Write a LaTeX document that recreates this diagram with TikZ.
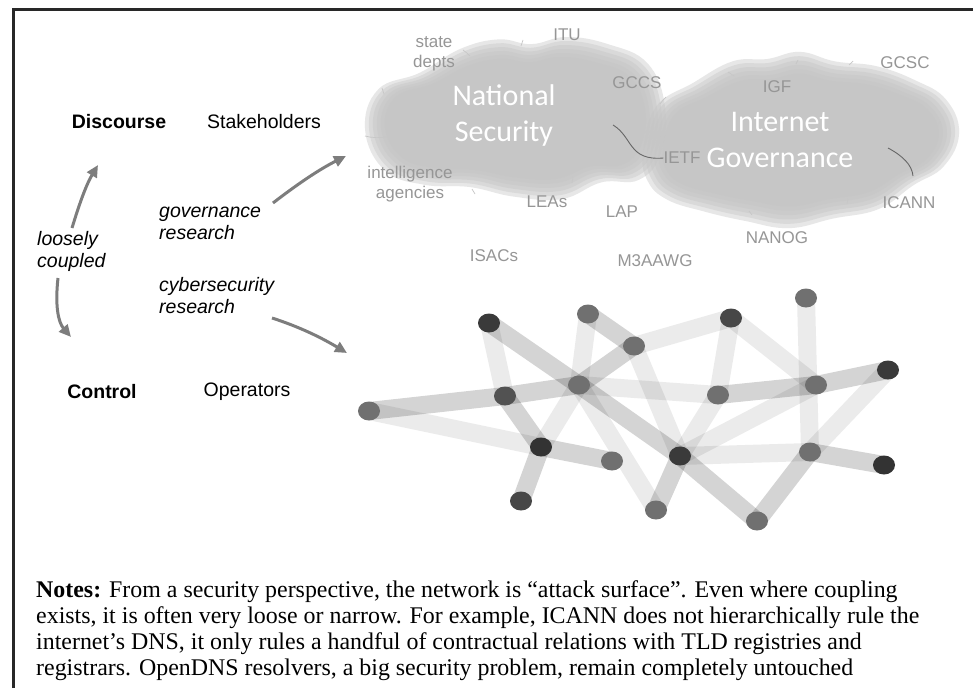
\documentclass[tikz,border=0pt]{standalone}
\usepackage{fontspec}
\setmainfont{Liberation Serif}
\newfontfamily\arialf{Liberation Sans}
\newfontfamily\calf{Carlito}
\usetikzlibrary{arrows.meta,shapes.geometric}
\pgfdeclarelayer{backlayer}
\pgfdeclarelayer{cloudlayer}
\pgfdeclarelayer{bandlayer}
\pgfsetlayers{backlayer,cloudlayer,bandlayer,main}
\definecolor{cloudgray}{RGB}{196,196,196}
\definecolor{lblgray}{RGB}{150,150,150}
\definecolor{arrowgray}{RGB}{125,125,125}
\definecolor{darkdot}{RGB}{58,58,58}
\definecolor{middot}{RGB}{112,112,112}
\definecolor{framegray}{RGB}{40,40,40}
\tikzset{
  lbl/.style={font=\arialf\fontsize{17}{20}\selectfont, text=lblgray, inner sep=0pt, align=center},
  lefttxt/.style={font=\arialf\fontsize{19.5}{22}\selectfont, inner sep=0pt, align=left},
  cloudtxt/.style={font=\calf\fontsize{30}{36}\selectfont, text=white, inner sep=0pt, align=center},
  garrow/.style={draw=arrowgray, line width=3pt, -{Triangle[length=12pt,width=11pt]}},
  dotd/.style={ellipse, minimum width=22pt, minimum height=19pt, inner sep=0pt, fill=darkdot},
  dotm/.style={ellipse, minimum width=22pt, minimum height=19pt, inner sep=0pt, fill=middot},
  mband/.style={draw=black, draw opacity=0.17, line width=18pt},
  lband/.style={draw=black, draw opacity=0.08, line width=18pt},
  faint/.style={draw=black!22, line width=0.7pt},
  darkarc/.style={draw=black!60, line width=0.9pt},
  nspath/.style={insert path={plot[smooth cycle, tension=0.7] coordinates {
    (378,128) (390,94) (428,80) (465,60) (500,52) (530,56) (562,50) (600,56) (636,72)
    (652,108) (648,148) (628,170) (594,172) (558,186) (514,184) (474,176) (432,174) (396,162)}}},
  igpath/.style={insert path={plot[smooth cycle, tension=0.7] coordinates {
    (656,150) (668,112) (702,92) (738,74) (770,72) (800,66) (832,74) (870,78) (906,90)
    (934,106) (946,134) (932,162) (904,178) (872,198) (830,206) (790,214) (750,208)
    (712,200) (678,190) (660,174)}}},
}
\newcommand\softcloud[4]{% #1 path style, #2 cx, #3 cy, #4 half-width ratio
  \foreach \d in {13,9,5,1,-3,-7}{
    \fill[cloudgray, fill opacity=0.4, shift={(#2,#3)}, xscale={1+\d/#4}, yscale={1+\d/68}, shift={(-#2,-#3)}, #1];
  }}
\begin{document}
\begin{tikzpicture}[x=1pt,y=-1pt]
\useasboundingbox (0,0) rectangle (974,688);
\begin{pgfonlayer}{backlayer}
\fill[white] (0,0) rectangle (974,688);
\end{pgfonlayer}
% frame
\draw[framegray, line width=3pt] (13,688) -- (13,9) -- (973,9);

% clouds with soft edges
\begin{pgfonlayer}{cloudlayer}
\softcloud{nspath}{515}{118}{138}
\softcloud{igpath}{800}{140}{145}
\end{pgfonlayer}

\node[cloudtxt] (ns) at (504,116) {National\\Security};
\node[cloudtxt] (ig) at (780,140) {Internet\\Governance};

% grey labels
\node[lbl] (state) at (434,54) {state\\depts};
\node[lbl] (itu) at (567,35) {ITU};
\node[lbl] (gccs) at (637,83) {GCCS};
\node[lbl] (igf) at (777,87) {IGF};
\node[lbl] (gcsc) at (905,63) {GCSC};
\node[lbl] (ietf) at (682,158) {IETF};
\node[lbl] (icann) at (909,203) {ICANN};
\node[lbl] (intel) at (410,184) {intelligence\\agencies};
\node[lbl] (leas) at (547,202) {LEAs};
\node[lbl] (lap) at (622,212) {LAP};
\node[lbl] (nanog) at (777,238) {NANOG};
\node[lbl] (isacs) at (494,256) {ISACs};
\node[lbl] (m3) at (655,261) {M3AAWG};

% arcs near clouds
\draw[darkarc] (613,125) .. controls (633,137) and (628,161) .. (ietf.west);
\draw[darkarc] (888,148) .. controls (903,156) and (912,165) .. (913,176);
\draw[faint] (365,136) .. controls (372,138) and (380,138) .. (387,137);
\draw[faint] (463,50) .. controls (466,52) and (468,54) .. (470,56);
\draw[faint] (521,46) -- (523,40);
\draw[faint] (660,104) .. controls (662,101) and (664,99) .. (666,97);
\draw[faint] (728,72) -- (734,76);
\draw[faint] (796,64) -- (798,60);
\draw[faint] (849,65) -- (853,61);
\draw[faint] (936,127) -- (940,122);
\draw[faint] (749,211) -- (752,215);
\draw[faint] (847,204) -- (848,199);
\draw[faint] (572,183) -- (573,177);
\draw[faint] (472,189) -- (475,194);
\draw[faint] (382,88) -- (384,94);

% left texts
\node[lefttxt, font=\arialf\bfseries\fontsize{19.5}{22}\selectfont] (disc) at (119,122) {Discourse};
\node[lefttxt] (stake) at (264,122) {Stakeholders};
\node[lefttxt, font=\arialf\bfseries\fontsize{19.5}{22}\selectfont] (ctrl) at (102,392) {Control};
\node[lefttxt] (oper) at (247,392) {Operators};
\node[lefttxt, font=\arialf\itshape\fontsize{19.5}{22}\selectfont, anchor=west] (loose) at (37,251) {loosely\\coupled};
\node[lefttxt, font=\arialf\itshape\fontsize{19.5}{22}\selectfont, anchor=west] (gov) at (159,223) {governance\\research};
\node[lefttxt, font=\arialf\itshape\fontsize{19.5}{22}\selectfont, anchor=west] (cyb) at (159,296) {cybersecurity\\research};

\coordinate (upS) at (72,228);
\coordinate (upE) at (98,165);
\coordinate (dnS) at (58,278);
\coordinate (dnE) at (71,337);
\coordinate (govS) at (273,203);
\coordinate (govE) at (346,156);
\coordinate (cybS) at (272,318);
\coordinate (cybE) at (347,353);
\draw[garrow] (upS) .. controls (79,205) and (86,185) .. (upE);
\draw[garrow] (dnS) .. controls (55,305) and (58,322) .. (dnE);
\draw[garrow] (govS) .. controls (295,186) and (318,170) .. (govE);
\draw[garrow] (cybS) .. controls (300,327) and (322,338) .. (cybE);

% network nodes
\node[dotm] (n1) at (369,411) {};
\node[dotd] (n2) at (489,323) {};
\node[dotm, fill=black!68] (n3) at (505,396) {};
\node[dotd, fill=black!80] (n4) at (541,447) {};
\node[dotd, fill=black!72] (n5) at (521,501) {};
\node[dotm] (n6) at (588,314) {};
\node[dotm] (n7) at (579,385) {};
\node[dotm] (n8) at (612,461) {};
\node[dotm] (n9) at (634,346) {};
\node[dotm] (n10) at (656,510) {};
\node[dotd] (n11) at (680,456) {};
\node[dotm] (n12) at (718,395) {};
\node[dotd, fill=black!72] (n13) at (731,318) {};
\node[dotm] (n14) at (757,521) {};
\node[dotm] (n15) at (806,298) {};
\node[dotm] (n16) at (810,452) {};
\node[dotm] (n17) at (816,385) {};
\node[dotd] (n18) at (888,370) {};
\node[dotd, fill=black!80] (n19) at (884,465) {};

\begin{pgfonlayer}{bandlayer}
\foreach \a/\b in {n1/n3, n3/n7, n2/n7, n7/n11, n11/n14, n6/n9, n9/n7, n3/n4, n4/n5, n4/n8, n16/n19, n16/n14, n11/n10, n12/n17, n17/n18}
  \draw[mband] (\a.center) -- (\b.center);
\foreach \a/\b in {n1/n4, n2/n3, n6/n7, n7/n10, n9/n13, n9/n11, n11/n16, n11/n17, n15/n16, n18/n16, n13/n12, n12/n11, n4/n7, n7/n12, n13/n17}
  \draw[lband] (\a.center) -- (\b.center);
\end{pgfonlayer}

% notes
\node[anchor=north west, inner sep=0pt, align=left, font=\fontsize{23.9}{26.3}\selectfont] (notes) at (36,580)
{\textbf{Notes:} From a security perspective, the network is “attack surface”. Even where coupling\\
exists, it is often very loose or narrow. For example, ICANN does not hierarchically rule the\\
internet’s DNS, it only rules a handful of contractual relations with TLD registries and\\
registrars. OpenDNS resolvers, a big security problem, remain completely untouched};
\end{tikzpicture}
\end{document}
